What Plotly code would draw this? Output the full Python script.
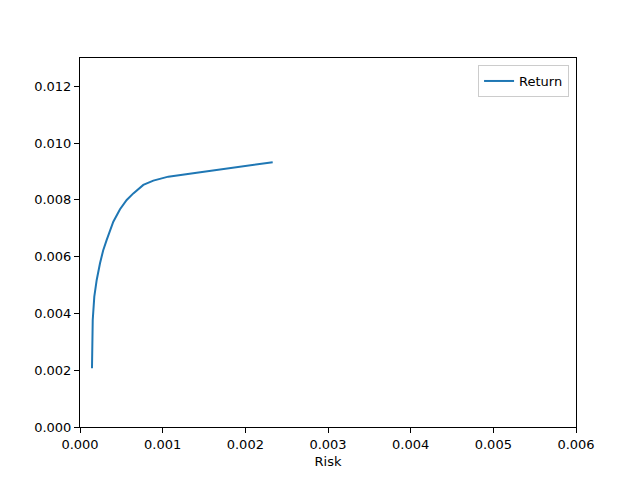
import plotly.graph_objects as go

# efficient frontier
risk = [0.000145, 0.000145, 0.000154, 0.000173, 0.000202, 0.000242, 0.000280,
        0.000323, 0.000403, 0.000484, 0.000565, 0.000645, 0.000766, 0.000887,
        0.001068, 0.001412, 0.002331]
ret = [0.00207, 0.00283, 0.00377, 0.00459, 0.00518, 0.00577, 0.00622,
       0.00659, 0.00723, 0.00767, 0.00800, 0.00823, 0.00853, 0.00868,
       0.00882, 0.00896, 0.00933]

font = dict(family="DejaVu Sans", size=13, color="black")

fig = go.Figure()
fig.add_trace(go.Scatter(
    x=risk, y=ret, mode="lines", name="Return",
    line=dict(color="#1f77b4", width=2),
))

axis_common = dict(
    showgrid=False, zeroline=False, showline=True, linecolor="black",
    linewidth=1, mirror=True, ticks="outside", ticklen=5, tickcolor="black",
    tickfont=font,
)
fig.update_xaxes(range=[0, 0.006], dtick=0.001, tick0=0, tickformat=".3f",
                 title=dict(text="Risk", font=font, standoff=6), **axis_common)
fig.update_yaxes(range=[0, 0.013], dtick=0.002, tick0=0, tickformat=".3f",
                 **axis_common)

# page body has an 8px margin, so the figure is shrunk to fit the window
fig.update_layout(
    width=632, height=472,
    margin=dict(l=72, r=64, t=50, b=53),
    plot_bgcolor="white", paper_bgcolor="white",
    font=font,
    showlegend=True,
    legend=dict(x=0.986, y=0.981, xanchor="right", yanchor="top",
                bordercolor="#cccccc", borderwidth=1, bgcolor="white",
                font=font, itemwidth=30),
)

fig.write_html("out.html")
